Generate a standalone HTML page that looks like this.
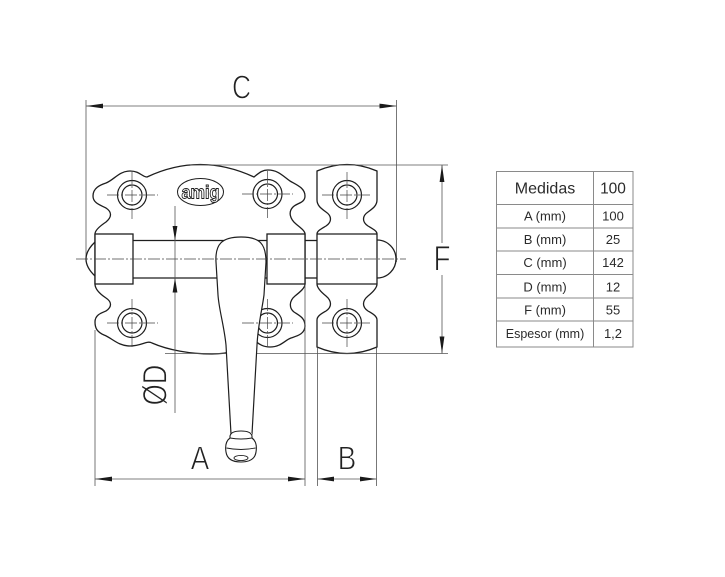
<!DOCTYPE html>
<html>
<head>
<meta charset="utf-8">
<style>
  html,body{margin:0;padding:0;background:#fff;}
  body{width:725px;height:577px;overflow:hidden;}
  svg{display:block;}
  .big{font-family:"Liberation Sans",sans-serif;fill:#222;stroke:#fff;stroke-width:0.9;}
  .tb{font-family:"Liberation Sans",sans-serif;fill:#2b2b2b;}
</style>
</head>
<body>
<svg width="725" height="577" viewBox="0 0 725 577" xmlns="http://www.w3.org/2000/svg">
  <rect x="0" y="0" width="725" height="577" fill="#fff"/>

  <!-- Left mounting plate -->
  <path d="M147,177 Q200,152 254,177
           C259,173 262,170 268,170
           C278,170 283,176 290,181
           C297,185 305,188 305,196
           C305,203 297,203 293,207
           C288,212 290,219 296,224
           C301,228 305,231 305,234
           L305,284
           C305,288 300,292 295,296
           C289,301 289,308 294,312
           C300,316 305,318 305,326
           C305,334 297,336 291,338
           C285,340 281,347 270,347
           C262,347 258,343 255,341
           C245,348 232,354 212,354
           C190,354 168,350 152,343
           C147,340 142,346 130,346
           C118,346 112,338 104,335
           C97,332 95,328 95,322
           C95,315 101,313 106,311
           C112,307 112,302 106,298
           C100,294 95,289 95,284
           L95,234
           C95,230 100,226 106,222
           C112,217 112,212 106,208
           C100,205 93,203 93,196
           C93,188 100,185 106,183
           C114,180 119,171 130,171
           C140,171 142,177 147,177 Z"
        fill="#fff" stroke="#1e1e1e" stroke-width="1.3"/>

  <!-- Keeper plate -->
  <path d="M317,171 Q347,158 377,171
           L377,200 C377,206 372,209 368,212
           C362,216 362,222 368,226
           C373,229 377,231 377,234
           L377,284
           C377,288 373,292 368,296
           C362,301 362,307 368,311
           C373,314 377,316 377,320
           L377,347 Q347,360 317,347
           L317,320
           C317,316 321,314 326,311
           C332,307 332,301 326,296
           C321,292 317,288 317,284
           L317,234
           C317,231 321,229 326,226
           C332,222 332,216 326,212
           C322,209 317,206 317,200 Z"
        fill="#fff" stroke="#1e1e1e" stroke-width="1.3"/>
  <line x1="317" y1="234" x2="377" y2="234" stroke="#1e1e1e" stroke-width="1.3"/>
  <line x1="317" y1="284" x2="377" y2="284" stroke="#1e1e1e" stroke-width="1.3"/>

  <!-- Extension lines -->
  <g stroke="#555" stroke-width="0.8" fill="none">
    <line x1="86" y1="100" x2="86" y2="262"/>
    <line x1="396.5" y1="100" x2="396.5" y2="262"/>
    <line x1="190" y1="165" x2="448" y2="165"/>
    <line x1="165" y1="353.5" x2="448" y2="353.5"/>
    <line x1="95" y1="330" x2="95" y2="486"/>
    <line x1="305" y1="284" x2="305" y2="486"/>
    <line x1="317.5" y1="348" x2="317.5" y2="486"/>
    <line x1="376.5" y1="348" x2="376.5" y2="486"/>
  </g>

  <!-- Housings -->
  <rect x="95" y="234" width="38" height="50" fill="#fff" stroke="#1e1e1e" stroke-width="1.3"/>
  <rect x="267" y="234" width="38" height="50" fill="#fff" stroke="#1e1e1e" stroke-width="1.3"/>

  <!-- Bolt -->
  <g stroke="#1e1e1e" stroke-width="1.3" fill="none">
    <line x1="133" y1="240.5" x2="267" y2="240.5"/>
    <line x1="133" y1="278" x2="267" y2="278"/>
    <line x1="305" y1="240.5" x2="317" y2="240.5"/>
    <line x1="305" y1="278" x2="317" y2="278"/>
    <path d="M95,242 Q77,259 95,276"/>
    <path d="M377,240 A19,19 0 0 1 377,278"/>
  </g>

  <!-- Holes -->
  <g stroke="#1e1e1e" stroke-width="1.2" fill="#fff">
    <circle cx="132" cy="195" r="14.5"/><circle cx="132" cy="195" r="10"/>
    <circle cx="267.5" cy="194" r="14.5"/><circle cx="267.5" cy="194" r="10"/>
    <circle cx="132" cy="323" r="14.5"/><circle cx="132" cy="323" r="10"/>
    <circle cx="267.5" cy="323" r="14.5"/><circle cx="267.5" cy="323" r="10"/>
    <circle cx="347" cy="195" r="14.5"/><circle cx="347" cy="195" r="10"/>
    <circle cx="347" cy="323" r="14.5"/><circle cx="347" cy="323" r="10"/>
  </g>

  <!-- Logo -->
  <ellipse cx="200.5" cy="192" rx="23" ry="13.5" fill="#fff" stroke="#1e1e1e" stroke-width="1"/>
  <text x="0" y="0" transform="translate(200.5,198.5) scale(1,1.35)" text-anchor="middle"
        font-family="Liberation Sans, sans-serif" font-weight="bold" font-size="14"
        textLength="38" lengthAdjust="spacingAndGlyphs"
        fill="#fff" stroke="#1e1e1e" stroke-width="0.7">amig</text>

  <!-- Handle -->
  <path d="M216,262 C215,244 222,237 241,237 C260,237 266,244 266,262
           L264,295 C262,310 258,325 257,345 L252,434 L231,434 L226,345
           C224,325 219,310 218,295 Z"
        fill="#fff" stroke="#1e1e1e" stroke-width="1.2"/>
  <line x1="231" y1="434" x2="252" y2="434" stroke="#fff" stroke-width="2"/>
  <!-- Knob -->
  <path d="M230,436 Q231,431 241,431 Q251,431 252,436 L252,438
           C256,441 257,446 256,452 C255,459 250,462 241,462
           C232,462 227,459 226,452 C225,446 226,441 230,438 Z"
        fill="#fff" stroke="#1e1e1e" stroke-width="1.1"/>
  <path d="M230,438 Q241,440 252,438" fill="none" stroke="#1e1e1e" stroke-width="0.9"/>
  <path d="M226.5,448 Q241,451 255.5,448" fill="none" stroke="#1e1e1e" stroke-width="0.9"/>
  <ellipse cx="241" cy="458" rx="7" ry="2.6" fill="none" stroke="#1e1e1e" stroke-width="0.9"/>

  <!-- Center lines -->
  <g stroke="#444" stroke-width="0.7" fill="none" stroke-dasharray="12 2 2 2">
    <line x1="76" y1="259" x2="406" y2="259"/>
    <line x1="107" y1="195" x2="158" y2="195"/><line x1="132" y1="172" x2="132" y2="219"/>
    <line x1="242" y1="194" x2="293" y2="194"/><line x1="267.5" y1="171" x2="267.5" y2="218"/>
    <line x1="107" y1="323" x2="158" y2="323"/><line x1="132" y1="299" x2="132" y2="347"/>
    <line x1="242" y1="323" x2="293" y2="323"/><line x1="267.5" y1="299" x2="267.5" y2="347"/>
    <line x1="322" y1="195" x2="372" y2="195"/><line x1="347" y1="172" x2="347" y2="219"/>
    <line x1="322" y1="323" x2="372" y2="323"/><line x1="347" y1="299" x2="347" y2="347"/>
  </g>

  <!-- Dimension lines -->
  <g stroke="#555" stroke-width="0.8" fill="none">
    <line x1="86" y1="106" x2="396.5" y2="106"/>
    <line x1="442" y1="165" x2="442" y2="243"/>
    <line x1="442" y1="275" x2="442" y2="353.5"/>
    <line x1="95" y1="479" x2="305" y2="479"/>
    <line x1="317.5" y1="479" x2="376.5" y2="479"/>
    <line x1="175" y1="206" x2="175" y2="413"/>
  </g>
  <g fill="#1a1a1a">
    <polygon points="86,106 103,103.6 103,108.4"/>
    <polygon points="396.5,106 379.5,103.6 379.5,108.4"/>
    <polygon points="442,165 439.6,182 444.4,182"/>
    <polygon points="442,353.5 439.6,336.5 444.4,336.5"/>
    <polygon points="95,479 112,476.6 112,481.4"/>
    <polygon points="305,479 288,476.6 288,481.4"/>
    <polygon points="317.5,479 334,476.6 334,481.4"/>
    <polygon points="376.5,479 360,476.6 360,481.4"/>
    <polygon points="175,240.5 172.6,226 177.4,226"/>
    <polygon points="175,278 172.6,292.5 177.4,292.5"/>
  </g>

  <!-- Dimension letters -->
  <text class="big" transform="translate(241.5,98.5) scale(0.8,1)" text-anchor="middle" font-size="33">C</text>
  <text class="big" transform="translate(442,270.5) scale(0.8,1)" text-anchor="middle" font-size="35">F</text>
  <text class="big" transform="translate(200,469.5) scale(0.85,1)" text-anchor="middle" font-size="33">A</text>
  <text class="big" transform="translate(347,469.5) scale(0.85,1)" text-anchor="middle" font-size="33">B</text>
  <text class="big" transform="translate(166.5,385) rotate(-90) scale(0.8,1)" text-anchor="middle" font-size="34">ØD</text>

  <!-- Table -->
  <g stroke="#8a8a8a" stroke-width="1" fill="none">
    <rect x="496.5" y="171.5" width="136.5" height="175.5"/>
    <line x1="593.5" y1="171.5" x2="593.5" y2="347"/>
    <line x1="496.5" y1="204.5" x2="633" y2="204.5"/>
    <line x1="496.5" y1="228" x2="633" y2="228"/>
    <line x1="496.5" y1="251" x2="633" y2="251"/>
    <line x1="496.5" y1="274.5" x2="633" y2="274.5"/>
    <line x1="496.5" y1="298" x2="633" y2="298"/>
    <line x1="496.5" y1="321" x2="633" y2="321"/>
  </g>
  <g class="tb" text-anchor="middle">
    <text x="545" y="193.5" font-size="16">Medidas</text>
    <text x="613" y="193.5" font-size="15.5">100</text>
    <text x="545" y="220.5" font-size="13">A (mm)</text>
    <text x="613" y="220.5" font-size="13">100</text>
    <text x="545" y="244" font-size="13">B (mm)</text>
    <text x="613" y="244" font-size="13">25</text>
    <text x="545" y="267" font-size="13">C (mm)</text>
    <text x="613" y="267" font-size="13">142</text>
    <text x="545" y="291.5" font-size="13">D (mm)</text>
    <text x="613" y="291.5" font-size="13">12</text>
    <text x="545" y="314.5" font-size="13">F (mm)</text>
    <text x="613" y="314.5" font-size="13">55</text>
    <text x="545" y="338" font-size="12.5">Espesor (mm)</text>
    <text x="613" y="338" font-size="13">1,2</text>
  </g>
</svg>
</body>
</html>
